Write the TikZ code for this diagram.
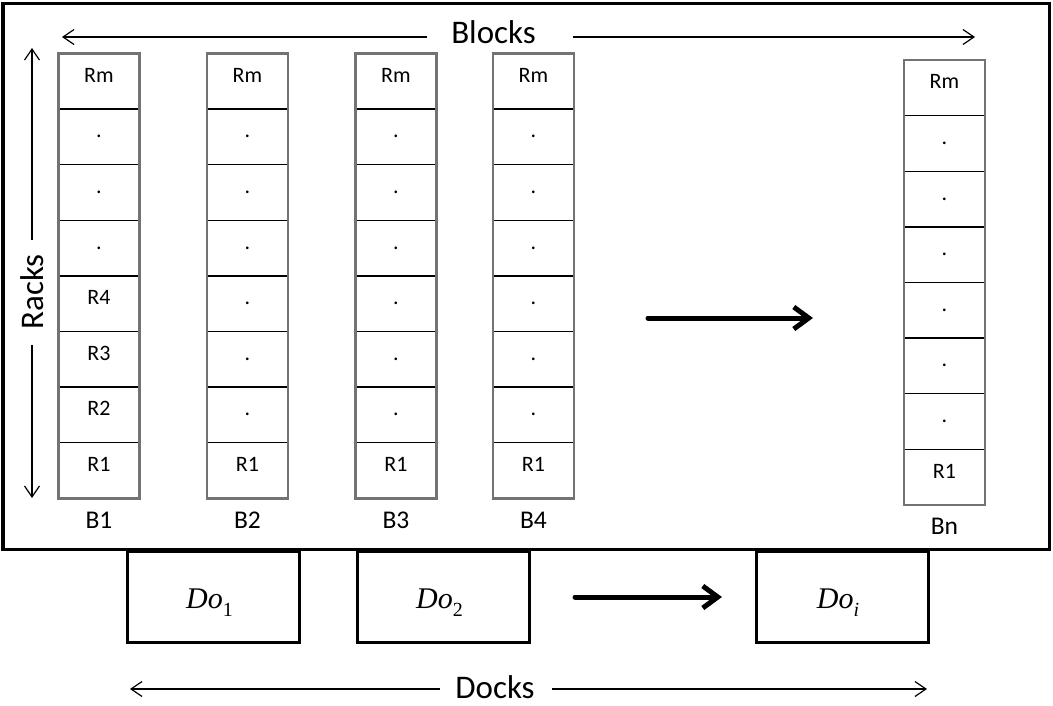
\documentclass[tikz,border=0pt]{standalone}
\usepackage{fontspec}
\setmainfont{Carlito}
\newfontfamily\dofont{Liberation Serif}
\newcommand\dolab[2]{{\dofont\itshape Do}\raisebox{-0.28em}{\dofont\fontsize{20}{22}\selectfont #2}}
\usetikzlibrary{arrows.meta}
\begin{document}
\begin{tikzpicture}[x=1pt,y=-1pt,
  frame/.style={draw=black,line width=3.5pt,inner sep=0pt,outer sep=0pt},
  dockbox/.style={draw=black,line width=3pt,inner sep=0pt,outer sep=0pt,minimum width=172pt,minimum height=91pt},
  colborder/.style={draw=black!55,line width=2.5pt},
  cell/.style={draw=black,line width=1.4pt,inner sep=0pt,outer sep=0pt,minimum width=81pt,minimum height=55.6pt},
  celltext/.style={font=\fontsize{22}{26}\selectfont,anchor=base,inner sep=0pt},
  blabel/.style={font=\fontsize{25.5}{30}\selectfont,anchor=base,inner sep=0pt},
  biglabel/.style={font=\fontsize{33}{40}\selectfont,anchor=base,inner sep=0pt},
  dolabel/.style={font=\fontsize{30}{34}\selectfont,anchor=base,inner sep=0pt},
  thinarrow/.style={line width=1.2pt,-{Straight Barb[length=11pt,width=15pt]}},
  thickarrow/.style={line width=5pt,line cap=round,-{Straight Barb[length=15pt,width=22pt]}}
]
\useasboundingbox (0,0) rectangle (1053,705);

% warehouse frame
\node[frame,minimum width=1046.5pt,minimum height=546pt] (wh) at (526.25,276.5) {};

% block columns
\foreach \name/\cx/\top/\cells in {
  B1/99/53.5/{Rm,.,.,.,R4,R3,R2,R1},
  B2/247.5/53.5/{Rm,.,.,.,.,.,.,R1},
  B3/396/53.5/{Rm,.,.,.,.,.,.,R1},
  B4/533.5/53.5/{Rm,.,.,.,.,.,.,R1},
  Bn/944.5/60/{Rm,.,.,.,.,.,.,R1}} {
  \foreach \t [count=\i] in \cells {
    \node[cell] (\name-\i) at (\cx,{\top+(\i-0.5)*55.6}) {};
    \node[celltext] (\name-t\i) at ([yshift=-1pt]\name-\i.center) {\t};
  }
  \draw[colborder] (\name-1.north west) rectangle (\name-8.south east);
  \node[blabel] (\name-lab) at ([yshift=-30pt]\name-8.south) {\name};
}

% Blocks arrow
\node[biglabel] (blocks) at (493.5,43) {Blocks};
\coordinate (blL) at (427,37);
\coordinate (blLend) at (62,37);
\coordinate (blR) at (573,37);
\coordinate (blRend) at (975,37);
\draw[thinarrow] (blL) -- (blLend);
\draw[thinarrow] (blR) -- (blRend);

% Racks arrow
\node[biglabel,rotate=90] (racks) at (43,292) {Racks};
\coordinate (rkT) at (32,240);
\coordinate (rkTend) at (32,48);
\coordinate (rkB) at (32,345);
\coordinate (rkBend) at (32,498);
\draw[thinarrow] (rkT) -- (rkTend);
\draw[thinarrow] (rkB) -- (rkBend);

% continuation arrow between blocks
\coordinate (mA) at (648,318);
\coordinate (mB) at (813,318);
\draw[thickarrow] (mA) -- (mB);

% docks
\node[dockbox] (Do1) at (213.5,596.5) {};
\node[dockbox] (Do2) at (443.5,596.5) {};
\node[dockbox] (Doi) at (842,596.5) {};
\node[dolabel] (Do1t) at ([xshift=-4pt,yshift=-11.5pt]Do1.center) {\dolab{Do}{1}};
\node[dolabel] (Do2t) at ([xshift=-4pt,yshift=-11.5pt]Do2.center) {\dolab{Do}{2}};
\node[dolabel] (Doit) at ([xshift=-4pt,yshift=-11.5pt]Doi.center) {\dolab{Do}{\itshape i}};
\coordinate (dA) at (575,597);
\coordinate (dB) at (722,597);
\draw[thickarrow] (dA) -- (dB);

% Docks arrow
\node[biglabel] (docks) at (495,698) {Docks};
\coordinate (dkL) at (440,689);
\coordinate (dkLend) at (130,689);
\coordinate (dkR) at (552,689);
\coordinate (dkRend) at (927,689);
\draw[thinarrow] (dkL) -- (dkLend);
\draw[thinarrow] (dkR) -- (dkRend);
\end{tikzpicture}
\end{document}
